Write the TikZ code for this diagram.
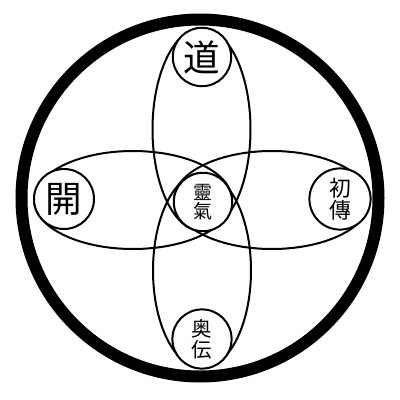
\documentclass[tikz,border=0pt]{standalone}
\usepackage{fontspec}
\newfontfamily\cjk{Noto Sans CJK JP}
\begin{document}
\begin{tikzpicture}[x=0.25mm,y=-0.25mm,
  thin line/.style={line width=0.5mm},
  small/.style={circle,thin line,draw,fill=white,inner sep=0pt},
  lbl/.style={font=\cjk,align=center,inner sep=0pt}]
\useasboundingbox (0,0) rectangle (400,400);
\fill[white] (0,0) rectangle (400,400);
\draw[line width=3mm] (200,198) circle (178.5);
% four petals, each from an outer circle to the far side of the centre circle
\draw[thin line] (201.5,129.5) ellipse (49 and 101.5);
\draw[thin line] (202,270.5) ellipse (49 and 97.5);
\draw[thin line] (133,200) ellipse (99 and 49);
\draw[thin line] (272,200) ellipse (98 and 49);
\node[small,minimum size=14.6mm] (top) at (202,57) {};
\node[small,minimum size=15mm] (left) at (64,199) {};
\node[small,minimum size=15.3mm] (right) at (340,199) {};
\node[small,minimum size=14.6mm] (mid) at (203,202) {};
\node[small,minimum size=14.8mm] (bot) at (202,339) {};
\node[lbl,font=\cjk\fontsize{26}{26}\selectfont] (t1) at (top) {道};
\node[lbl,font=\cjk\fontsize{26}{26}\selectfont] (l1) at (left) {開};
\node[lbl,font=\cjk\fontsize{15.5}{16}\selectfont] (r1) at (right) {初\\傳};
\node[lbl,font=\cjk\fontsize{13.5}{13.5}\selectfont] (m1) at (mid) {靈\\氣};
\node[lbl,font=\cjk\fontsize{14.5}{15}\selectfont] (b1) at (bot) {奥\\伝};
\end{tikzpicture}
\end{document}
